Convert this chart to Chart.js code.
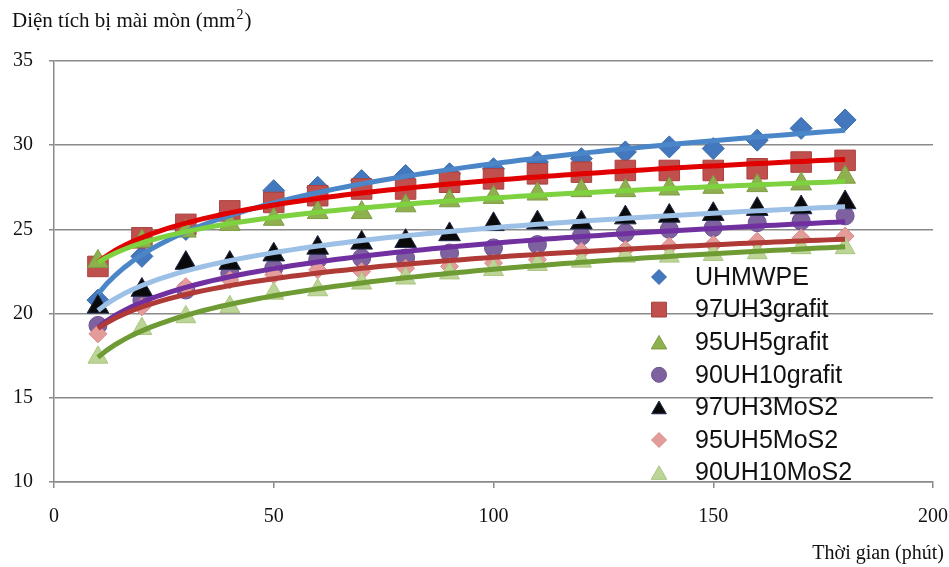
<!DOCTYPE html>
<html>
<head>
<meta charset="utf-8">
<script src="https://cdn.jsdelivr.net/npm/chart.js@4.4.0/dist/chart.umd.min.js"></script>
<style>
  html, body { margin: 0; padding: 0; background: #fff; }
  #wrap { width: 949px; height: 567px; }
</style>
</head>
<body>
<div id="wrap"><canvas id="chart" width="949" height="567"></canvas></div>
<script>
// thời gian (phút)
const times = [10, 20, 30, 40, 50, 60, 70, 80, 90, 100, 110, 120, 130, 140, 150, 160, 170, 180];

// diện tích bị mài mòn (mm2)
const uhmwpe      = [20.8, 23.4, 25.0, 26.0, 27.3, 27.5, 27.9, 28.2, 28.3, 28.6, 29.0, 29.2, 29.6, 29.9, 29.8, 30.3, 31.0, 31.5];
const uh97grafit  = [22.8, 24.5, 25.3, 26.1, 26.6, 27.0, 27.4, 27.4, 27.8, 28.0, 28.3, 28.4, 28.5, 28.5, 28.5, 28.6, 29.0, 29.1];
const uh95grafit  = [23.1, 24.3, 24.9, 25.3, 25.6, 26.0, 26.0, 26.4, 26.7, 26.9, 27.1, 27.3, 27.3, 27.4, 27.5, 27.6, 27.7, 28.1];
const uh90grafit  = [19.3, 20.8, 21.4, 22.4, 22.7, 23.2, 23.3, 23.3, 23.6, 23.9, 24.1, 24.6, 24.8, 25.0, 25.1, 25.4, 25.5, 25.8];
const uh97mos2    = [20.4, 21.4, 23.0, 23.0, 23.5, 23.9, 24.2, 24.3, 24.7, 25.3, 25.4, 25.4, 25.7, 25.8, 25.9, 26.2, 26.3, 26.6];
const uh95mos2    = [18.8, 20.4, 21.6, 22.0, 22.3, 22.6, 22.5, 22.7, 22.8, 23.0, 23.2, 23.7, 23.8, 24.0, 24.1, 24.3, 24.5, 24.6];
const uh90mos2    = [17.4, 19.1, 19.8, 20.4, 21.2, 21.4, 21.8, 22.1, 22.4, 22.6, 22.9, 23.1, 23.4, 23.4, 23.5, 23.6, 23.9, 23.9];

const names = ['UHMWPE', '97UH3grafit', '95UH5grafit', '90UH10grafit', '97UH3MoS2', '95UH5MoS2', '90UH10MoS2'];
const values = [uhmwpe, uh97grafit, uh95grafit, uh90grafit, uh97mos2, uh95mos2, uh90mos2];
const xTicks = [0, 50, 100, 150, 200];
const yTicks = [10, 15, 20, 25, 30, 35];

// marker look / trendline look per series
const styles = [
  { shape: 'rectRot',  r: 11, fill: '#4478be', edge: '#3b6aa8', line: '#4a86c8', lr: 7.5 },
  { shape: 'rect',     r: 14.5, fill: '#c0504d', edge: '#a9413e', line: '#e00000', lr: 10.5 },
  { shape: 'triangle', r: 12, fill: '#8fb04e', edge: '#7e9c43', line: '#7ed13f', lr: 9 },
  { shape: 'circle',   r: 9,  fill: '#7e62a0', edge: '#6c5290', line: '#7030a0', lr: 7.5 },
  { shape: 'triangle', r: 12.5, fill: '#0a0a0a', edge: '#1f2a4a', line: '#9dc0e6', lr: 8.5 },
  { shape: 'rectRot',  r: 9,  fill: '#e49c9a', edge: '#d88a88', line: '#b03a36', lr: 7.5 },
  { shape: 'triangle', r: 11.5, fill: '#bcd495', edge: '#aac682', line: '#6f9b35', lr: 9 }
];

// logarithmic trendline (least squares on ln x), like the spreadsheet trendline
function logFit(xs, ys) {
  const lx = xs.map(Math.log);
  const n = xs.length;
  const mx = lx.reduce((a, b) => a + b, 0) / n;
  const my = ys.reduce((a, b) => a + b, 0) / n;
  let sxy = 0, sxx = 0;
  for (let i = 0; i < n; i++) {
    sxy += (lx[i] - mx) * (ys[i] - my);
    sxx += (lx[i] - mx) * (lx[i] - mx);
  }
  const b = sxy / sxx;
  const a = my - b * mx;
  return x => a + b * Math.log(x);
}

const datasets = [];
values.forEach((ys, i) => {
  const st = styles[i];
  datasets.push({
    label: names[i],
    data: times.map((t, k) => ({ x: t, y: ys[k] })),
    showLine: false,
    pointStyle: st.shape,
    pointRadius: st.r,
    pointHoverRadius: st.r,
    pointBackgroundColor: st.fill,
    pointBorderColor: st.edge,
    pointBorderWidth: 1,
    order: 20 - i
  });
});
values.forEach((ys, i) => {
  const f = logFit(times, ys);
  const pts = [];
  for (let t = times[0]; t <= times[times.length - 1]; t += 2) pts.push({ x: t, y: f(t) });
  datasets.push({
    label: names[i] + ' trend',
    data: pts,
    showLine: true,
    borderColor: styles[i].line,
    borderWidth: 5,
    pointRadius: 0,
    tension: 0,
    order: 6 - i
  });
});

function drawMarker(ctx, shape, x, y, r, fill, edge) {
  ctx.save();
  ctx.fillStyle = fill;
  ctx.strokeStyle = edge;
  ctx.lineWidth = 1;
  ctx.beginPath();
  if (shape === 'circle') {
    ctx.arc(x, y, r, 0, Math.PI * 2);
  } else if (shape === 'rect') {
    const s = r * Math.SQRT1_2;
    ctx.rect(x - s, y - s, 2 * s, 2 * s);
  } else if (shape === 'rectRot') {
    ctx.moveTo(x, y - r); ctx.lineTo(x + r, y); ctx.lineTo(x, y + r); ctx.lineTo(x - r, y);
    ctx.closePath();
  } else {
    // triangle, centred on its box
    ctx.moveTo(x, y - r * 0.75);
    ctx.lineTo(x + r * 0.866, y + r * 0.75);
    ctx.lineTo(x - r * 0.866, y + r * 0.75);
    ctx.closePath();
  }
  ctx.fill();
  ctx.stroke();
  ctx.restore();
}

const insideLegend = {
  id: 'insideLegend',
  afterDraw(chart) {
    const ctx = chart.ctx;
    ctx.save();
    ctx.font = '25px "Liberation Sans"';
    ctx.fillStyle = '#111';
    ctx.textBaseline = 'middle';
    names.forEach((n, i) => {
      const y = 277 + i * 32.6;
      const st = styles[i];
      drawMarker(ctx, st.shape, 659, y, st.lr, st.fill, st.edge);
      ctx.fillText(n, 695, y + 1);
    });
    ctx.restore();
  }
};

const axisTitles = {
  id: 'axisTitles',
  afterDraw(chart) {
    const ctx = chart.ctx;
    ctx.save();
    ctx.fillStyle = '#111';
    ctx.textBaseline = 'alphabetic';
    ctx.font = '21px "Liberation Serif"';
    const main = 'Diện tích bị mài mòn (mm';
    ctx.fillText(main, 12, 27);
    const w = ctx.measureText(main).width;
    ctx.font = '14px "Liberation Serif"';
    ctx.fillText('2', 12 + w + 1, 19);
    const w2 = ctx.measureText('2').width;
    ctx.font = '21px "Liberation Serif"';
    ctx.fillText(')', 12 + w + w2 + 2, 27);
    ctx.font = '20px "Liberation Serif"';
    ctx.textAlign = 'right';
    ctx.fillText('Thời gian (phút)', 944, 559);
    ctx.restore();
  }
};

new Chart(document.getElementById('chart'), {
  type: 'scatter',
  data: { datasets },
  options: {
    responsive: false,
    animation: false,
    devicePixelRatio: 1,
    layout: { padding: { top: 61, right: 0, left: 0, bottom: 0 } },
    plugins: { legend: { display: false }, tooltip: { enabled: false } },
    scales: {
      x: {
        type: 'linear',
        min: 0,
        max: 200,
        afterBuildTicks: s => { s.ticks = xTicks.map(v => ({ value: v })); },
        afterFit: s => { s.height = 567 - 482; s.paddingRight = 16; },
        grid: { drawOnChartArea: false, drawTicks: true, tickLength: 6, color: '#8a8a8a', lineWidth: 1.5 },
        border: { color: '#8a8a8a', width: 1.5 },
        ticks: { padding: 17, color: '#111', font: { family: 'Liberation Serif', size: 20 } }
      },
      y: {
        type: 'linear',
        min: 10,
        max: 35,
        afterBuildTicks: s => { s.ticks = yTicks.map(v => ({ value: v })); },
        afterFit: s => { s.width = 54; },
        grid: { drawTicks: true, tickLength: 5, color: '#8a8a8a', lineWidth: 1.5 },
        border: { color: '#8a8a8a', width: 1.5 },
        ticks: { padding: 16, color: '#111', font: { family: 'Liberation Serif', size: 20 } }
      }
    }
  },
  plugins: [insideLegend, axisTitles]
});
</script>
</body>
</html>
